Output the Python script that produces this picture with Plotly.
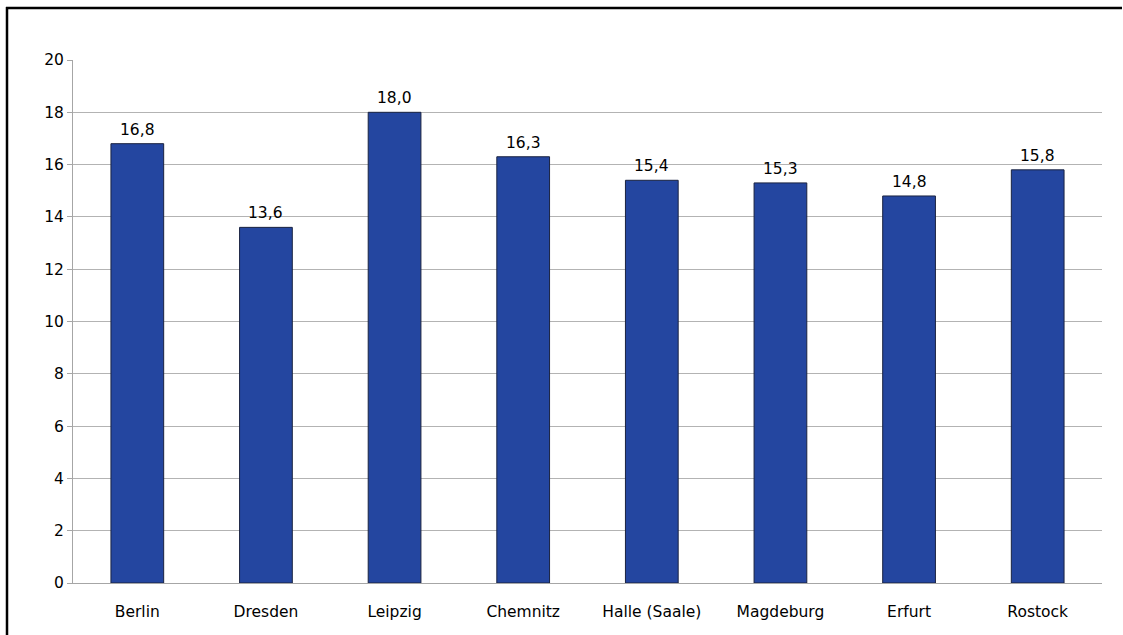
import plotly.graph_objects as go

cities = ["Berlin", "Dresden", "Leipzig", "Chemnitz", "Halle (Saale)", "Magdeburg", "Erfurt", "Rostock"]
values = [16.8, 13.6, 18.0, 16.3, 15.4, 15.3, 14.8, 15.8]
labels = [f"{v:.1f}".replace(".", ",") for v in values]

W, H = 1123, 635
ml, mr, mt, mb = 73, 21, 60, 52
pw, ph = W - ml - mr, H - mt - mb
FONT = "DejaVu Sans, Liberation Sans, Arial"
FS = 15.5

fig = go.Figure(go.Bar(
    x=cities, y=values,
    marker=dict(color="#2446A0", line=dict(color="#1a2340", width=1)),
    hoverinfo="x+y",
))

for c, v, t in zip(cities, values, labels):
    fig.add_annotation(x=c, y=v, text=t, showarrow=False, yanchor="bottom",
                       yshift=3, font=dict(family=FONT, size=FS, color="#000"))

def px(x):
    return (x - ml) / pw

def py(y):
    return (H - mb - y) / ph

# outer frame: only top and left edges are visible in the window
fig.add_shape(type="line", xref="paper", yref="paper",
              x0=px(6), x1=px(W - 1), y0=py(8), y1=py(8),
              line=dict(color="#000", width=2.5))
fig.add_shape(type="line", xref="paper", yref="paper",
              x0=px(7), x1=px(7), y0=py(7), y1=py(H),
              line=dict(color="#000", width=2.5))

fig.update_layout(
    width=W, height=H, margin=dict(l=ml, r=mr, t=mt, b=mb),
    plot_bgcolor="white", paper_bgcolor="white",
    bargap=0.59, showlegend=False,
    font=dict(family=FONT, size=FS, color="#000"),
)
fig.update_yaxes(range=[0, 20], dtick=2, showgrid=True, gridcolor="#b3b3b3", gridwidth=1,
                 showline=True, linecolor="#a6a6a6", linewidth=1,
                 ticks="outside", ticklen=5, tickcolor="#a6a6a6", zeroline=False,
                 tickfont=dict(size=FS))
fig.update_xaxes(showline=True, linecolor="#a6a6a6", linewidth=1, ticks="",
                 tickfont=dict(size=FS), ticklabelstandoff=14)

fig.write_html("out.html", config={"displayModeBar": False},
               post_script="document.body.style.margin='0';document.body.style.overflow='hidden';")
